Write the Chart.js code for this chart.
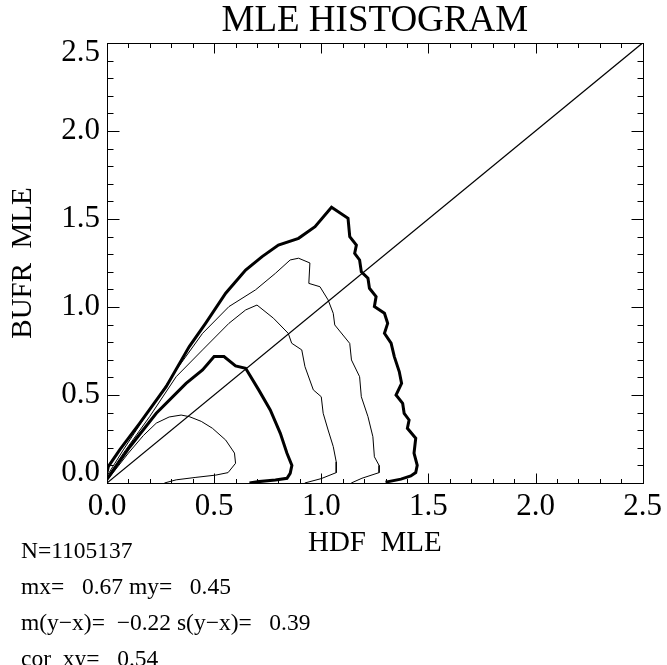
<!DOCTYPE html>
<html lang="en">
<head>
    <meta charset="UTF-8">
    <title>MLE HISTOGRAM</title>
    <script src="https://cdn.jsdelivr.net/npm/chart.js@4/dist/chart.umd.min.js"></script>
    <style>
      body { margin: 0; background: #fff; }
      .wrap { position: relative; width: 667px; height: 665px; overflow: hidden; }
      .stats {
        position: absolute; left: 21px; top: 532px;
        font-family: 'Liberation Serif', serif; font-size: 23.5px; line-height: 36px;
        white-space: pre; color: #000;
      }
    </style>
</head>
<body>
    <div class="wrap">
        <canvas id="mle" width="667" height="665"></canvas>
        <div class="stats" id="stats"></div>
    </div>

    <script>
        // axis ticks
        const tickValues = [0, 0.5, 1.0, 1.5, 2.0, 2.5];
        const tickLabels = ['0.0', '0.5', '1.0', '1.5', '2.0', '2.5'];

        // contour levels, innermost first (thin / thick alternate)
        const c1X = [0.01, 0.10, 0.17, 0.23, 0.29, 0.346, 0.384, 0.44, 0.492, 0.554, 0.595, 0.60, 0.565, 0.508, 0.415, 0.323, 0.268];
        const c1Y = [0.03, 0.17, 0.27, 0.34, 0.375, 0.386, 0.377, 0.35, 0.311, 0.244, 0.17, 0.112, 0.059, 0.045, 0.032, 0.018, 0.0];

        const c2X = [0.0, 0.107, 0.23, 0.369, 0.446, 0.50, 0.546, 0.60, 0.647, 0.708, 0.762, 0.809, 0.84, 0.863, 0.855, 0.84, 0.786, 0.71, 0.665];
        const c2Y = [0.02, 0.206, 0.396, 0.566, 0.642, 0.718, 0.718, 0.665, 0.652, 0.529, 0.415, 0.282, 0.169, 0.10, 0.055, 0.027, 0.017, 0.008, 0.0];

        const c3X = [0.0, 0.076, 0.199, 0.323, 0.446, 0.569, 0.647, 0.70, 0.777, 0.846, 0.862, 0.909, 0.924, 0.963, 1.0, 1.009, 1.032, 1.056, 1.07, 1.07, 1.0, 0.923];
        const c3Y = [0.03, 0.169, 0.377, 0.604, 0.756, 0.907, 0.983, 1.011, 0.936, 0.85, 0.794, 0.756, 0.661, 0.529, 0.49, 0.396, 0.301, 0.207, 0.12, 0.059, 0.025, 0.0];

        const c4X = [0.0, 0.076, 0.199, 0.323, 0.446, 0.569, 0.693, 0.786, 0.855, 0.894, 0.947, 0.942, 0.994, 1.032, 1.056, 1.063, 1.133, 1.141, 1.179, 1.187, 1.218, 1.241, 1.248, 1.27, 1.27, 1.19, 1.14];
        const c4Y = [0.04, 0.188, 0.415, 0.642, 0.85, 1.002, 1.097, 1.191, 1.267, 1.277, 1.25, 1.134, 1.115, 1.04, 0.964, 0.898, 0.793, 0.699, 0.604, 0.49, 0.377, 0.263, 0.149, 0.10, 0.059, 0.027, 0.0];

        const c5X = [0.0, 0.006, 0.06, 0.153, 0.276, 0.384, 0.46, 0.554, 0.647, 0.724, 0.80, 0.894, 0.971, 1.048, 1.125, 1.133, 1.164, 1.156, 1.179, 1.187, 1.218, 1.225, 1.256, 1.248, 1.295, 1.31, 1.295, 1.326, 1.341, 1.364, 1.375, 1.349, 1.38, 1.387, 1.41, 1.402, 1.441, 1.433, 1.448, 1.441, 1.418, 1.372, 1.30];
        const c5Y = [0.06, 0.093, 0.19, 0.34, 0.547, 0.775, 0.907, 1.078, 1.21, 1.286, 1.352, 1.39, 1.456, 1.566, 1.504, 1.40, 1.352, 1.305, 1.267, 1.2, 1.163, 1.106, 1.059, 1.002, 0.964, 0.907, 0.85, 0.794, 0.718, 0.633, 0.566, 0.5, 0.452, 0.396, 0.358, 0.311, 0.254, 0.169, 0.10, 0.059, 0.04, 0.022, 0.005];

        const diagX = [0, 2.5];
        const diagY = [0, 2.5];

        const statLines = [
          'N=1105137',
          'mx=   0.67 my=   0.45',
          'm(y\u2212x)=  \u22120.22 s(y\u2212x)=   0.39',
          'cor  xy=   0.54'
        ];

        const serif = "'Liberation Serif', 'Times New Roman', serif";

        function pts(xs, ys) {
          return xs.map((x, i) => ({ x: x, y: ys[i] }));
        }

        function line(xs, ys, width) {
          return {
            data: pts(xs, ys),
            showLine: true,
            borderColor: '#000',
            borderWidth: width,
            pointRadius: 0,
            tension: 0,
            fill: false
          };
        }

        // box with inward major/minor ticks on all four sides + y labels
        const frame = {
          id: 'frame',
          afterDatasetsDraw(chart) {
            const { ctx, chartArea: a, scales: { x, y } } = chart;
            const L = Math.round(a.left) + 0.5, R = Math.round(a.right) + 0.5;
            const T = Math.round(a.top) + 0.5, B = Math.round(a.bottom) + 0.5;
            ctx.save();
            ctx.strokeStyle = '#000';
            ctx.lineWidth = 1;
            ctx.strokeRect(L, T, R - L, B - T);
            ctx.beginPath();
            for (let i = 0; i <= 25; i++) {
              const v = i / 10;
              const major = i % 5 === 0;
              const px = Math.round(x.getPixelForValue(v)) + 0.5;
              const lx = major ? 10 : 4.5;
              ctx.moveTo(px, B); ctx.lineTo(px, B - lx);
              ctx.moveTo(px, T); ctx.lineTo(px, T + lx);
              const py = Math.round(y.getPixelForValue(v)) + 0.5;
              const ly = major ? 12 : 6;
              ctx.moveTo(L, py); ctx.lineTo(L + ly, py);
              ctx.moveTo(R, py); ctx.lineTo(R - ly, py);
            }
            ctx.stroke();

            // end labels are kept inside the axis range
            ctx.fillStyle = '#000';
            ctx.font = '31px ' + serif;
            ctx.textAlign = 'right';
            ctx.textBaseline = 'middle';
            tickValues.forEach((v, i) => {
              let py = y.getPixelForValue(v);
              py = Math.min(Math.max(py, a.top + 10), a.bottom - 10);
              ctx.fillText(tickLabels[i], a.left - 7, py);
            });
            ctx.restore();
          }
        };

        const ctx = document.getElementById('mle').getContext('2d');
        const chart = new Chart(ctx, {
          type: 'scatter',
          data: {
            datasets: [
              line(diagX, diagY, 1.2),
              line(c1X, c1Y, 1),
              line(c2X, c2Y, 3),
              line(c3X, c3Y, 1),
              line(c4X, c4Y, 1),
              line(c5X, c5Y, 3)
            ]
          },
          options: {
            responsive: false,
            animation: false,
            devicePixelRatio: 1,
            layout: { padding: { left: 0, right: 20, top: 0, bottom: 104 } },
            plugins: {
              legend: { display: false },
              tooltip: { enabled: false },
              title: {
                display: true,
                fullSize: false,
                text: 'MLE HISTOGRAM',
                color: '#000',
                font: { family: serif, size: 37, weight: 'normal', lineHeight: 1.16 },
                padding: { top: 0, bottom: 0 }
              }
            },
            scales: {
              x: {
                type: 'linear',
                min: 0,
                max: 2.5,
                afterBuildTicks: s => { s.ticks = tickValues.map(v => ({ value: v })); },
                afterFit: s => { s.height = 78; },
                grid: { display: false, drawTicks: false },
                border: { display: false },
                ticks: {
                  color: '#000',
                  padding: 5,
                  maxRotation: 0,
                  font: { family: serif, size: 31 },
                  callback: (v, i) => tickLabels[i]
                },
                title: {
                  display: true,
                  text: 'HDF  MLE',
                  color: '#000',
                  font: { family: serif, size: 29 },
                  padding: { top: 0, bottom: 0 }
                }
              },
              y: {
                type: 'linear',
                min: 0,
                max: 2.5,
                afterBuildTicks: s => { s.ticks = tickValues.map(v => ({ value: v })); },
                afterFit: s => { s.width = 107; },
                grid: { display: false, drawTicks: false },
                border: { display: false },
                ticks: { display: false },
                title: {
                  display: true,
                  text: 'BUFR  MLE',
                  color: '#000',
                  font: { family: serif, size: 29 },
                  padding: { top: 6, bottom: 0 }
                }
              }
            }
          },
          plugins: [frame]
        });

        document.getElementById('stats').textContent = statLines.join('\n');
    </script>
</body>
</html>
